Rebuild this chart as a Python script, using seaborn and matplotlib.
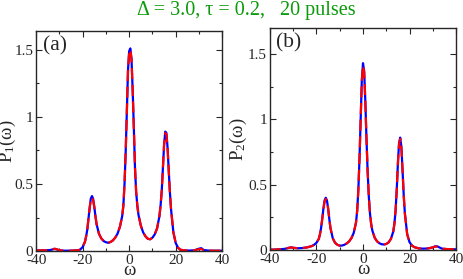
import numpy as np
import pandas as pd
import matplotlib
matplotlib.use("Agg")
import matplotlib.pyplot as plt
from matplotlib.ticker import MultipleLocator, FixedLocator
import seaborn as sns

# frequency grid shared by both panels
omega = [-40, -38, -36, -34, -33, -32, -31, -30, -28, -26, -24,
         -22, -21, -20, -19, -18.5, -18, -17.5, -17, -16.5, -16, -15.5, -15, -14.5, -14,
         -13, -12, -11, -10, -9, -8, -7, -6, -5, -4, -3,
         -2.5, -2, -1.5, -1, -0.5, 0, 0.5, 1, 1.5, 2, 2.5, 3, 3.5,
         4, 5, 6, 7, 8, 9, 10, 11, 12, 13,
         13.5, 14, 14.5, 15, 15.5, 16, 16.5, 17, 17.5,
         18, 19, 20, 21, 22,
         24, 26, 28, 30, 31, 32, 34, 36, 38, 40]

# panel (a): P1(omega)
p1_blue = [0.005, 0.005, 0.006, 0.008, 0.012, 0.016, 0.012, 0.006, 0.003, 0.003, 0.004,
           0.006, 0.012, 0.03, 0.07, 0.11, 0.16, 0.24, 0.32, 0.39, 0.41, 0.39, 0.33, 0.26, 0.20,
           0.13, 0.095, 0.075, 0.066, 0.062, 0.068, 0.08, 0.10, 0.13, 0.18, 0.26,
           0.34, 0.50, 0.74, 1.04, 1.35, 1.49, 1.51, 1.43, 1.20, 0.92, 0.62, 0.44, 0.34,
           0.27, 0.19, 0.14, 0.11, 0.092, 0.088, 0.10, 0.125, 0.17, 0.26,
           0.34, 0.45, 0.62, 0.79, 0.89, 0.88, 0.77, 0.60, 0.44,
           0.31, 0.14, 0.06, 0.025, 0.01,
           0.005, 0.004, 0.006, 0.018, 0.022, 0.008, 0.004, 0.003, 0.003, 0.003]
p1_red = [0.005, 0.005, 0.006, 0.009, 0.014, 0.018, 0.013, 0.006, 0.003, 0.003, 0.004,
          0.006, 0.012, 0.03, 0.07, 0.11, 0.16, 0.24, 0.32, 0.38, 0.40, 0.38, 0.33, 0.26, 0.20,
          0.13, 0.095, 0.075, 0.066, 0.062, 0.068, 0.08, 0.10, 0.13, 0.18, 0.26,
          0.34, 0.50, 0.74, 1.04, 1.35, 1.48, 1.50, 1.43, 1.20, 0.92, 0.62, 0.44, 0.34,
          0.27, 0.19, 0.14, 0.11, 0.092, 0.088, 0.10, 0.125, 0.17, 0.26,
          0.34, 0.45, 0.62, 0.79, 0.88, 0.87, 0.77, 0.60, 0.44,
          0.31, 0.14, 0.06, 0.025, 0.01,
          0.005, 0.004, 0.006, 0.014, 0.015, 0.007, 0.004, 0.003, 0.003, 0.003]

# panel (b): P2(omega)
p2_blue = [0.002, 0.003, 0.005, 0.008, 0.011, 0.016, 0.02, 0.017, 0.013, 0.015, 0.02,
           0.03, 0.04, 0.055, 0.085, 0.12, 0.17, 0.24, 0.32, 0.38, 0.40, 0.38, 0.32, 0.24, 0.17,
           0.09, 0.055, 0.04, 0.033, 0.034, 0.04, 0.05, 0.065, 0.09, 0.13, 0.21,
           0.30, 0.46, 0.70, 1.00, 1.30, 1.43, 1.37, 1.14, 0.85, 0.60, 0.41, 0.28, 0.20,
           0.15, 0.095, 0.067, 0.052, 0.044, 0.042, 0.046, 0.058, 0.085, 0.14,
           0.20, 0.30, 0.46, 0.66, 0.82, 0.86, 0.79, 0.61, 0.42,
           0.28, 0.12, 0.06, 0.035, 0.022,
           0.012, 0.01, 0.012, 0.02, 0.028, 0.027, 0.01, 0.007, 0.006, 0.005]
p2_red = [0.002, 0.003, 0.005, 0.008, 0.011, 0.016, 0.02, 0.017, 0.013, 0.015, 0.02,
          0.03, 0.04, 0.055, 0.085, 0.12, 0.17, 0.24, 0.31, 0.37, 0.39, 0.37, 0.32, 0.24, 0.17,
          0.09, 0.055, 0.04, 0.033, 0.034, 0.04, 0.05, 0.065, 0.09, 0.13, 0.21,
          0.30, 0.46, 0.70, 1.00, 1.29, 1.41, 1.36, 1.14, 0.85, 0.60, 0.41, 0.28, 0.20,
          0.15, 0.095, 0.067, 0.052, 0.044, 0.042, 0.046, 0.058, 0.085, 0.14,
          0.20, 0.30, 0.46, 0.66, 0.81, 0.85, 0.78, 0.61, 0.42,
          0.28, 0.12, 0.06, 0.035, 0.022,
          0.012, 0.01, 0.012, 0.02, 0.026, 0.025, 0.01, 0.007, 0.006, 0.005]

panel_tags = ["(a)", "(b)"]
ylabels = ["P$_1$(ω)", "P$_2$(ω)"]
ytops = [1.64, 1.70]
title = "Δ = 3.0, τ = 0.2,   20 pulses"

sns.set_style("ticks")
plt.rcParams["font.family"] = ["Liberation Serif", "DejaVu Serif"]
plt.rcParams["mathtext.fontset"] = "custom"
plt.rcParams["mathtext.rm"] = "Liberation Serif"
plt.rcParams["mathtext.it"] = "Liberation Serif:italic"
plt.rcParams["axes.unicode_minus"] = False

fig = plt.figure(figsize=(4.63, 2.79), dpi=100)
ax_a = fig.add_axes([0.078, 0.100, 0.402, 0.789])
ax_b = fig.add_axes([0.583, 0.104, 0.402, 0.796])

data = [(p1_blue, p1_red), (p2_blue, p2_red)]
label_x = [-0.1, -0.115]
for ax, (blue, red), tag, ylab, ytop, lx in zip([ax_a, ax_b], data, panel_tags, ylabels, ytops, label_x):
    df = pd.DataFrame({"omega": omega, "blue": blue, "red": red})
    sns.lineplot(data=df, x="omega", y="blue", ax=ax, color="blue", lw=1.6)
    sns.lineplot(data=df, x="omega", y="red", ax=ax, color="red", lw=1.6)
    ax.lines[-1].set_dashes([5, 2.5])
    ax.set_xlim(-40, 40)
    ax.set_ylim(0, ytop)
    ax.xaxis.set_major_locator(MultipleLocator(20))
    ax.xaxis.set_minor_locator(MultipleLocator(10))
    ax.yaxis.set_major_locator(FixedLocator([0, 0.5, 1, 1.5]))
    ax.yaxis.set_minor_locator(MultipleLocator(0.25))
    ax.set_yticklabels(["0", "0.5", "1", "1.5"])
    ax.tick_params(which="both", direction="in", top=True, right=True, labelsize=11, pad=2)
    ax.tick_params(which="major", length=4, width=0.8)
    ax.tick_params(which="minor", length=2.5, width=0.8)
    for s in ax.spines.values():
        s.set_linewidth(1.0)
    ax.set_xlabel("ω", fontsize=13.5)
    ax.xaxis.set_label_coords(0.5, -0.05)
    ax.set_ylabel(ylab, fontsize=13.5)
    ax.yaxis.set_label_coords(lx, 0.5)
    ax.text(0.035, 0.975, tag, transform=ax.transAxes, fontsize=15.5, va="top", ha="left")

fig.text(0.532, 0.995, title, color="#0a9a0a", fontsize=14.5, ha="center", va="top")
fig.savefig("out.png", dpi=100)
